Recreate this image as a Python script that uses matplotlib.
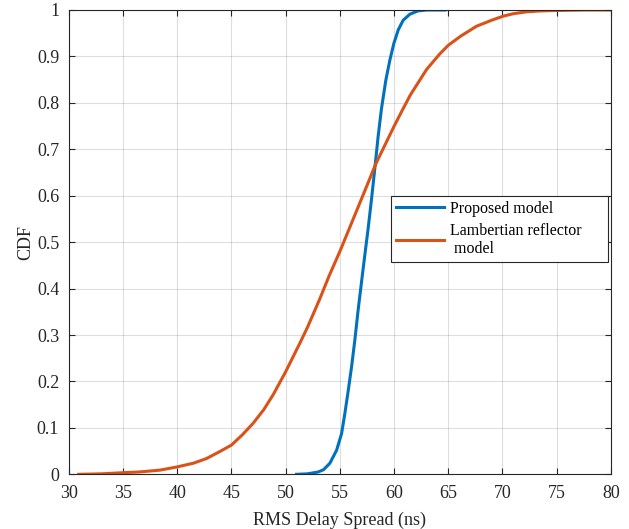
import matplotlib
matplotlib.use('Agg')
import matplotlib.pyplot as plt
import numpy as np

plt.rcParams['font.family'] = ['Liberation Serif', 'DejaVu Serif']

# CDF points (RMS delay spread in ns)
proposed_x = [51.0, 52.0, 53.0, 53.5, 54.08, 54.7, 55.16, 55.46, 55.77, 56.08, 56.38,
              56.69, 57.0, 57.3, 57.61, 57.92, 58.23, 58.53, 58.84, 59.24, 59.61,
              59.98, 60.38, 60.84, 61.46, 62.2, 63.0, 64.7]
proposed_y = [0.0, 0.001, 0.005, 0.01, 0.024, 0.052, 0.088, 0.131, 0.18, 0.232, 0.289,
              0.355, 0.415, 0.472, 0.53, 0.593, 0.66, 0.728, 0.788, 0.849, 0.892,
              0.928, 0.957, 0.978, 0.991, 0.998, 1.0, 1.0]

lamb_x = [30.9, 32.0, 33.0, 35.0, 36.5, 38.4, 40.0, 41.5, 42.7, 44.0, 45.0, 46.0, 47.0,
          48.0, 48.86, 50.0, 51.3, 52.0, 53.15, 54.0, 55.0, 56.85, 57.5, 58.3, 60.05,
          60.8, 61.5, 63.0, 64.2, 65.0, 66.1, 67.6, 69.0, 70.1, 71.0, 72.2, 73.5, 75.0,
          77.5, 80.0]
lamb_y = [0.0, 0.0005, 0.001, 0.0035, 0.005, 0.009, 0.016, 0.024, 0.034, 0.05, 0.063,
          0.085, 0.11, 0.14, 0.172, 0.221, 0.282, 0.316, 0.378, 0.427, 0.48, 0.585, 0.622,
          0.668, 0.752, 0.786, 0.817, 0.872, 0.905, 0.924, 0.943, 0.965, 0.978, 0.987,
          0.992, 0.996, 0.998, 0.999, 1.0, 1.0]

fig = plt.figure(figsize=(6.29, 5.29), dpi=100)
ax = fig.add_axes([0.1095, 0.1034, 0.8617, 0.8777])

ax.plot(proposed_x, proposed_y, color='#0072BD', lw=2.2, label='Proposed model')
ax.plot(lamb_x, lamb_y, color='#D95319', lw=2.2, label='Lambertian reflector\n model')

ax.set_xlim(30, 80)
ax.set_ylim(0, 1)
ax.set_xticks(np.arange(30, 81, 5))
ax.set_yticks(np.arange(0, 1.01, 0.1))
ax.set_yticklabels(['0', '0.1', '0.2', '0.3', '0.4', '0.5', '0.6', '0.7', '0.8', '0.9', '1'])
ax.grid(True, color='#262626', alpha=0.15, lw=0.8)
ax.tick_params(direction='in', top=True, right=True, labelsize=13, colors='#262626',
               length=4, width=0.8)
ax.tick_params(axis='x', pad=8)
ax.tick_params(axis='y', pad=7)
for sp in ax.spines.values():
    sp.set_color('#262626')
    sp.set_linewidth(0.8)

ax.set_xlabel('RMS Delay Spread (ns)', fontsize=13, color='#262626', labelpad=7)
ax.set_ylabel('CDF', fontsize=13, color='#262626', labelpad=2)

leg = ax.legend(loc='upper left', bbox_to_anchor=(0.594, 0.4665, 0.4007, 0.1325),
                mode='expand', fontsize=11.5, fancybox=False, framealpha=1,
                edgecolor='#262626', borderaxespad=0, handlelength=3.0,
                handletextpad=0.4, labelspacing=0.35, borderpad=0.3)
leg.get_frame().set_linewidth(0.8)

fig.savefig('out.png', dpi=100)
